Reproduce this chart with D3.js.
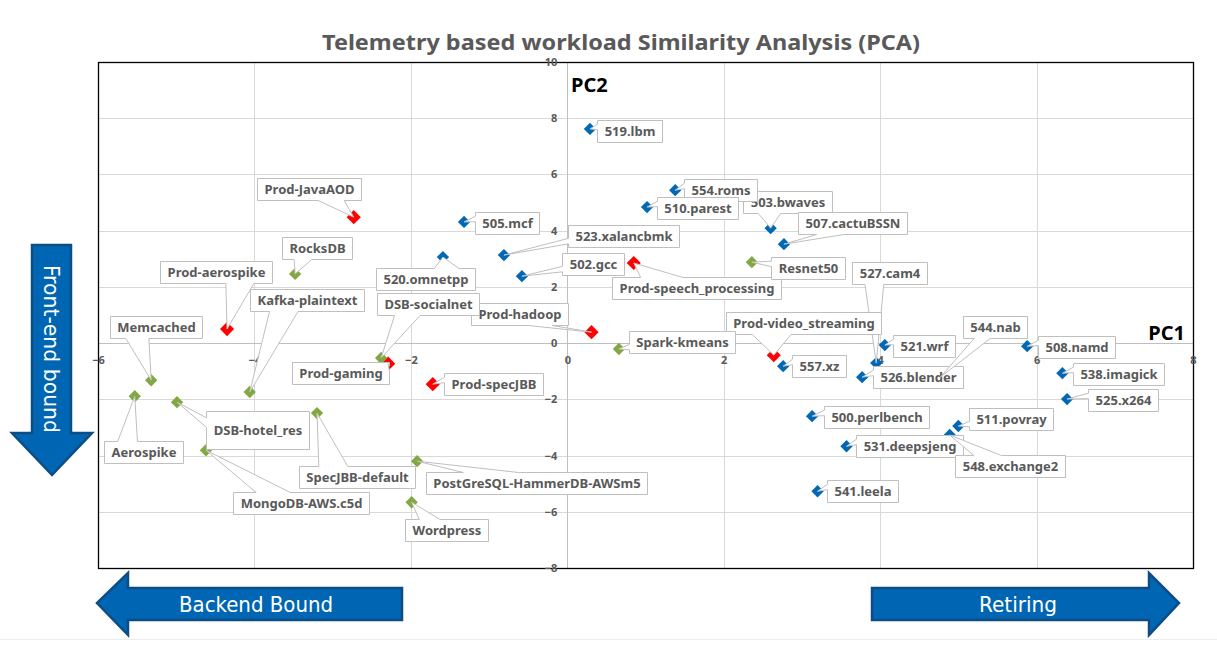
<!DOCTYPE html>
<html><head><meta charset="utf-8">
<script src="https://cdn.jsdelivr.net/npm/d3@7"></script>
<style>body{margin:0;background:#fff;} svg{display:block;}</style>
</head><body>
<svg id="chart" width="1217" height="648"></svg>
<script>
// ---------- data ----------
const names = ["519.lbm","503.bwaves","554.roms","510.parest","507.cactuBSSN","505.mcf","523.xalancbmk","520.omnetpp","502.gcc","527.cam4","521.wrf","526.blender","544.nab","508.namd","538.imagick","525.x264","557.xz","500.perlbench","511.povray","531.deepsjeng","548.exchange2","541.leela",
  "Prod-JavaAOD","Prod-aerospike","Prod-speech_processing","Prod-hadoop","Prod-video_streaming","Prod-specJBB","Prod-gaming",
  "RocksDB","Kafka-plaintext","Memcached","Aerospike","DSB-hotel_res","MongoDB-AWS.c5d","SpecJBB-default","PostGreSQL-HammerDB-AWSm5","Wordpress","Spark-kmeans","Resnet50","DSB-socialnet"];
const groups = ["spec","spec","spec","spec","spec","spec","spec","spec","spec","spec","spec","spec","spec","spec","spec","spec","spec","spec","spec","spec","spec","spec",
  "prod","prod","prod","prod","prod","prod","prod",
  "app","app","app","app","app","app","app","app","app","app","app","app"];
const pc1 = [0.29,2.60,1.38,1.02,2.77,-1.32,-0.81,-1.59,-0.58,3.95,4.06,3.77,4.77,5.88,6.33,6.39,2.76,3.13,5.00,3.57,4.89,3.20,
  -2.73,-4.35,0.85,0.31,2.64,-1.72,-2.29,
  -3.48,-4.06,-5.32,-5.53,-4.99,-4.62,-3.20,-1.92,-1.99,0.66,2.36,-2.38];
const pc2 = [7.62,4.09,5.44,4.84,3.52,4.31,3.13,3.06,2.38,-0.71,-0.07,-1.21,-1.21,-0.11,-1.07,-1.99,-0.82,-2.60,-2.95,-3.67,-3.27,-5.27,
  4.48,0.50,2.85,0.39,-0.43,-1.46,-0.73,
  2.46,-1.74,-1.32,-1.89,-2.10,-3.81,-2.49,-4.20,-5.66,-0.21,2.88,-0.53];
const xTicks = [-6,-4,-2,0,2,4,6,8];
const yTicks = [-8,-6,-4,-2,0,2,4,6,8,10];
const groupKeys = ["spec","prod","app"];
const groupColors = ["#0068b5","#ff0000","#82a843"];

// ---------- layout (callout box centre offset from its point, px) ----------
const labelDx = [40,17,45,50,69,43,120,-17,71,13,39,56,55,49,56,56,36,64,53,63,60,45,
  -45,-11,63,-72,30,61,-48,
  22,57,5,9,81,95,40,119,35,63,56,47];
const labelDy = [2,-26,0,1,-21,1,-19,22,-12,-90,1,0,-50,1,1,1,0,1,-7,0,31,0,
  -28,-57,25,-18,-32,0,9,
  -26,-92,-53,56,28,53,64,22,28,-7,6,-54];

const W = 1217, H = 648;
const svg = d3.select("#chart");
const pL = 98, pR = 1193, pT = 62, pB = 568;
const x = d3.scaleLinear().domain([-6, 8]).range([pL, pR]);
const y = d3.scaleLinear().domain([-8, 10]).range([pB, pT]);
const color = d3.scaleOrdinal().domain(groupKeys).range(groupColors);
const FONT = "'Noto Sans', 'Open Sans', sans-serif";
const grey = "#595959";

// bottom faint separator
svg.append("line").attr("x1",0).attr("x2",W).attr("y1",639.5).attr("y2",639.5).attr("stroke","#ececec");

// title
svg.append("text").attr("x", 621).attr("y", 50).attr("text-anchor","middle")
  .attr("font-family", FONT).attr("font-weight","bold").attr("font-size", 22).attr("fill", grey)
  .attr("textLength", 598).attr("lengthAdjust","spacingAndGlyphs")
  .text("Telemetry based workload Similarity Analysis (PCA)");

// grid
const g = svg.append("g");
g.selectAll(".vg").data(xTicks).join("line")
  .attr("x1", d => Math.round(x(d))+0.5).attr("x2", d => Math.round(x(d))+0.5)
  .attr("y1", pT).attr("y2", pB).attr("stroke","#d9d9d9");
g.selectAll(".hg").data(yTicks).join("line")
  .attr("y1", d => Math.round(y(d))+0.5).attr("y2", d => Math.round(y(d))+0.5)
  .attr("x1", pL).attr("x2", pR).attr("stroke","#d9d9d9");
// axes through origin
g.append("line").attr("x1", Math.round(x(0))+0.5).attr("x2", Math.round(x(0))+0.5).attr("y1", pT).attr("y2", pB).attr("stroke","#bfbfbf");
g.append("line").attr("y1", Math.round(y(0))+0.5).attr("y2", Math.round(y(0))+0.5).attr("x1", pL).attr("x2", pR).attr("stroke","#bfbfbf");
// border
g.append("rect").attr("x", pL+0.5).attr("y", pT+0.5).attr("width", pR-pL).attr("height", pB-pT)
  .attr("fill","none").attr("stroke","#000").attr("stroke-width",1.3);

// tick labels via d3 axes placed at origin
const xAxis = d3.axisBottom(x).tickValues(xTicks).tickSize(0).tickPadding(13);
const yAxis = d3.axisLeft(y).tickValues(yTicks).tickSize(0).tickPadding(10);
const xa = svg.append("g").attr("transform", `translate(0,${y(0)})`).call(xAxis);
const ya = svg.append("g").attr("transform", `translate(${x(0)},0)`).call(yAxis);
[xa, ya].forEach(a => {
  a.select(".domain").remove();
  a.selectAll("text").attr("font-family", FONT).attr("font-weight","bold").attr("font-size", 11).attr("fill", grey);
});

// axis names
svg.append("text").attr("x", 571).attr("y", 92).attr("font-family", FONT).attr("font-weight","bold")
  .attr("font-size", 20).attr("fill","#000").text("PC2");
svg.append("text").attr("x", 1185).attr("y", 340).attr("text-anchor","end").attr("font-family", FONT).attr("font-weight","bold")
  .attr("font-size", 20).attr("fill","#000").text("PC1");

// markers
const idx = d3.range(names.length);
svg.append("g").selectAll("path").data(idx).join("path")
  .attr("transform", i => `translate(${x(pc1[i])},${y(pc2[i])}) rotate(45)`)
  .attr("d", i => d3.symbol(d3.symbolSquare, groups[i] === "prod" ? 100 : 76)())
  .attr("fill", i => color(groups[i]));

// callouts (Excel wedgeRectCallout)
const lg = svg.append("g");
const measure = svg.append("text").attr("font-family", FONT).attr("font-weight","bold").attr("font-size", 13);
idx.forEach(i => {
  measure.text(names[i]);
  const tw = measure.node().getComputedTextLength();
  const bw = Math.round(tw + 14), bh = names[i] === "DSB-hotel_res" ? 38 : 22;
  const px = x(pc1[i]), py = y(pc2[i]);
  const cx = px + labelDx[i], cy = py + labelDy[i];
  const l = Math.round(cx - bw/2)+0.5, r = l + bw, t = Math.round(cy - bh/2)+0.5, b = t + bh;
  const dxp = px - (l+r)/2, dyp = py - (t+b)/2;
  const dq = dxp * bh / bw;
  const vertical = Math.abs(dyp) - Math.abs(dq) > 0;
  const xg1 = dxp > 0 ? 7 : 2, xg2 = dxp > 0 ? 10 : 5;
  const yg1 = dyp > 0 ? 7 : 2, yg2 = dyp > 0 ? 10 : 5;
  const x1 = l + bw*xg1/12, x2 = l + bw*xg2/12;
  const y1 = t + bh*yg1/12, y2 = t + bh*yg2/12;
  const p = d3.path();
  p.moveTo(l, t);
  if (vertical && dyp < 0) { p.lineTo(x1, t); p.lineTo(px, py); p.lineTo(x2, t); }
  p.lineTo(r, t);
  if (!vertical && dxp > 0) { p.lineTo(r, y1); p.lineTo(px, py); p.lineTo(r, y2); }
  p.lineTo(r, b);
  if (vertical && dyp > 0) { p.lineTo(x2, b); p.lineTo(px, py); p.lineTo(x1, b); }
  p.lineTo(l, b);
  if (!vertical && dxp < 0) { p.lineTo(l, y2); p.lineTo(px, py); p.lineTo(l, y1); }
  p.closePath();
  lg.append("path").attr("d", p.toString()).attr("fill","#fff").attr("stroke","#bfbfbf").attr("stroke-width",1);
  lg.append("text").attr("x", (l+r)/2).attr("y", (t+b)/2).attr("dy","0.36em").attr("text-anchor","middle")
    .attr("font-family", FONT).attr("font-weight","bold").attr("font-size", 13).attr("fill", grey).text(names[i]);
});
measure.remove();

// direction arrows
const arrowFill = "#0066b3", arrowStroke = "#0c4d86";
const line = d3.line();
const arrows = svg.append("g");
const NARROW = "'Liberation Sans Narrow','DejaVu Sans Condensed','Open Sans',sans-serif";
// Front-end bound (down)
arrows.append("path").attr("d", line([[32,245],[71,245],[71,433],[92,433],[52,475],[12,433],[32,433]]) + "Z")
  .attr("fill", arrowFill).attr("stroke", arrowStroke).attr("stroke-width", 2.5).attr("stroke-linejoin","miter");
arrows.append("text").attr("transform","translate(51,349) rotate(90)").attr("text-anchor","middle").attr("dy","0.35em")
  .attr("font-family",NARROW).attr("font-size",21).attr("fill","#fff")
  .attr("textLength",168).attr("lengthAdjust","spacingAndGlyphs").text("Front-end bound");
// Backend Bound (left)
arrows.append("path").attr("d", line([[402,588],[402,620],[128,620],[128,635],[97,603],[128,573],[128,588]]) + "Z")
  .attr("fill", arrowFill).attr("stroke", arrowStroke).attr("stroke-width", 2.5);
arrows.append("text").attr("x",256).attr("y",604).attr("text-anchor","middle").attr("dy","0.35em")
  .attr("font-family",NARROW).attr("font-size",22).attr("fill","#fff")
  .attr("textLength",154).attr("lengthAdjust","spacingAndGlyphs").text("Backend Bound");
// Retiring (right)
arrows.append("path").attr("d", line([[872,588],[1149,588],[1149,573],[1179,603],[1149,635],[1149,620],[872,620]]) + "Z")
  .attr("fill", arrowFill).attr("stroke", arrowStroke).attr("stroke-width", 2.5);
arrows.append("text").attr("x",1018).attr("y",604).attr("text-anchor","middle").attr("dy","0.35em")
  .attr("font-family",NARROW).attr("font-size",22).attr("fill","#fff")
  .attr("textLength",78).attr("lengthAdjust","spacingAndGlyphs").text("Retiring");
</script>
</body></html>
